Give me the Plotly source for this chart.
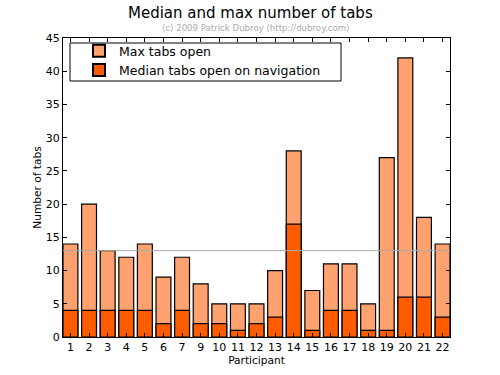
import plotly.graph_objects as go

participants = ["1", "2", "3", "4", "5", "6", "7", "9", "10", "11", "12",
                "13", "14", "15", "16", "17", "18", "19", "20", "21", "22"]
max_tabs = [14, 20, 13, 12, 14, 9, 12, 8, 5, 5, 5, 10, 28, 7, 11, 11, 5, 27, 42, 18, 14]
median_tabs = [4, 4, 4, 4, 4, 2, 4, 2, 2, 1, 2, 3, 17, 1, 4, 4, 1, 1, 6, 6, 3]
reference_line = 13

font = "DejaVu Sans"
PW, PH, L, T = 387, 299, 63, 38  # plot area size and offsets (px)


def px_x(x):
    return (x - L) / PW


def px_y(y):
    return (T + PH - y) / PH


fig = go.Figure()
fig.add_trace(go.Bar(
    x=participants, y=max_tabs, name="Max tabs open",
    marker=dict(color="#FFA270", line=dict(color="black", width=1.2)),
    width=0.8,
))
fig.add_trace(go.Bar(
    x=participants, y=median_tabs, name="Median tabs open on navigation",
    marker=dict(color="#FF5C00", line=dict(color="black", width=1.2)),
    width=0.8,
))

fig.add_shape(type="line", xref="paper", yref="y", x0=0, x1=1,
              y0=reference_line, y1=reference_line,
              line=dict(color="#aaaaaa", width=1), layer="above")
# legend frame
fig.add_shape(type="rect", xref="paper", yref="paper",
              x0=px_x(70), x1=px_x(341), y0=px_y(81), y1=px_y(43),
              line=dict(color="black", width=1), fillcolor="rgba(0,0,0,0)",
              layer="above")

fig.update_layout(
    width=500, height=375,
    barmode="overlay",
    plot_bgcolor="white", paper_bgcolor="white",
    margin=dict(l=L, r=500 - L - PW, t=T, b=375 - T - PH, autoexpand=False),
    font=dict(family=font, size=11, color="black"),
    showlegend=True,
    legend=dict(
        x=px_x(79), y=px_y(36), xanchor="left", yanchor="top",
        borderwidth=0, bgcolor="rgba(0,0,0,0)",
        font=dict(size=12.5, family=font), itemsizing="constant",
        tracegroupgap=0,
    ),
    annotations=[
        dict(text="Median and max number of tabs", xref="paper", yref="paper",
             x=px_x(250), y=px_y(13), xanchor="center", yanchor="middle",
             showarrow=False, font=dict(size=15, family=font, color="black")),
        dict(text="(c) 2009 Patrick Dubroy (http://dubroy.com)", xref="paper", yref="paper",
             x=px_x(255), y=px_y(28), xanchor="center", yanchor="middle",
             showarrow=False, font=dict(size=8.6, family=font, color="#aaaaaa")),
    ],
)
fig.update_xaxes(
    type="category", range=[-0.4, 20.4], automargin=False,
    showline=True, linecolor="black", linewidth=1, mirror="ticks",
    ticks="inside", ticklen=4, tickcolor="black",
    showgrid=False, zeroline=False,
    title=dict(text="Participant", font=dict(size=10.6), standoff=0),
)
fig.update_yaxes(
    range=[0, 45], dtick=5, automargin=False,
    showline=True, linecolor="black", linewidth=1, mirror="ticks",
    ticks="inside", ticklen=4, tickcolor="black",
    showgrid=False, zeroline=False,
    title=dict(text="Number of tabs", font=dict(size=10.6), standoff=2),
)

fig.write_html("out.html", config={"displayModeBar": False},
               post_script="document.body.style.margin='0';")
